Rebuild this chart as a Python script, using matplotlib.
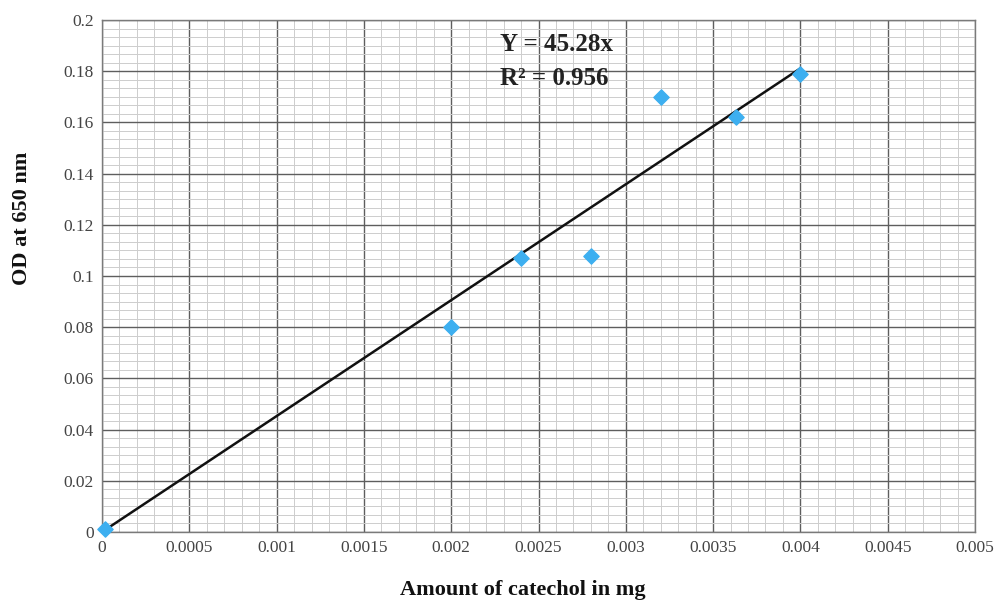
import numpy as np
import matplotlib.pyplot as plt
from matplotlib.ticker import AutoMinorLocator

# catechol standard curve
catechol_mg = [0.00002, 0.002, 0.0024, 0.0028, 0.0032, 0.00363, 0.004]
od_650 = [0.001, 0.080, 0.107, 0.108, 0.170, 0.162, 0.179]
slope = 45.28
r2 = 0.956
x_ticks = [0, 0.0005, 0.001, 0.0015, 0.002, 0.0025, 0.003, 0.0035, 0.004, 0.0045, 0.005]
x_labels = ["0", "0.0005", "0.001", "0.0015", "0.002", "0.0025", "0.003",
            "0.0035", "0.004", "0.0045", "0.005"]
y_ticks = [0, 0.02, 0.04, 0.06, 0.08, 0.1, 0.12, 0.14, 0.16, 0.18, 0.2]
y_labels = ["0", "0.02", "0.04", "0.06", "0.08", "0.1", "0.12", "0.14", "0.16", "0.18", "0.2"]

plt.rcParams['font.family'] = ['Liberation Serif', 'DejaVu Serif']

fig = plt.figure(figsize=(9.98, 6.01), dpi=100)
ax = fig.add_axes([102/998, 1-532/601, (975-102)/998, (532-20)/601])

ax.set_xlim(0, 0.005)
ax.set_ylim(0, 0.2)
ax.set_xticks(x_ticks)
ax.set_xticklabels(x_labels)
ax.set_yticks(y_ticks)
ax.set_yticklabels(y_labels)
ax.xaxis.set_minor_locator(AutoMinorLocator(5))
ax.yaxis.set_minor_locator(AutoMinorLocator(6))
ax.grid(which='major', color='#5e5e5e', linewidth=1.0)
ax.grid(which='minor', color='#cdcdcd', linewidth=0.7)
ax.set_axisbelow(True)
ax.tick_params(which='both', length=0, labelsize=12.5, colors='#444444', pad=6)
for s in ax.spines.values():
    s.set_color('#7a7a7a')
    s.set_linewidth(1)

# fitted line
fit_x = np.array([0, catechol_mg[-1]])
ax.plot(fit_x, slope * fit_x, color='#111111', linewidth=1.8, zorder=3)
ax.scatter(catechol_mg, od_650, marker='D', s=60, color='#3daff0', zorder=4,
           clip_on=False)

ax.text(0.00228, 0.1905, "Y = 45.28x", fontsize=18, fontweight='bold',
        va='center', ha='left', color='#222222')
ax.text(0.00228, 0.1772, "R\u00b2 = 0.956", fontsize=18, fontweight='bold',
        va='center', ha='left', color='#222222')

fig.text(523/998, 1-590/601, "Amount of catechol in mg", fontsize=16,
         fontweight='bold', ha='center', va='center', color='#111111')
fig.text(22/998, 1-218/601, "OD at 650 nm", fontsize=16, fontweight='bold',
         rotation=90, ha='center', va='center', color='#111111')

fig.savefig("out.png", dpi=100, facecolor='white')
